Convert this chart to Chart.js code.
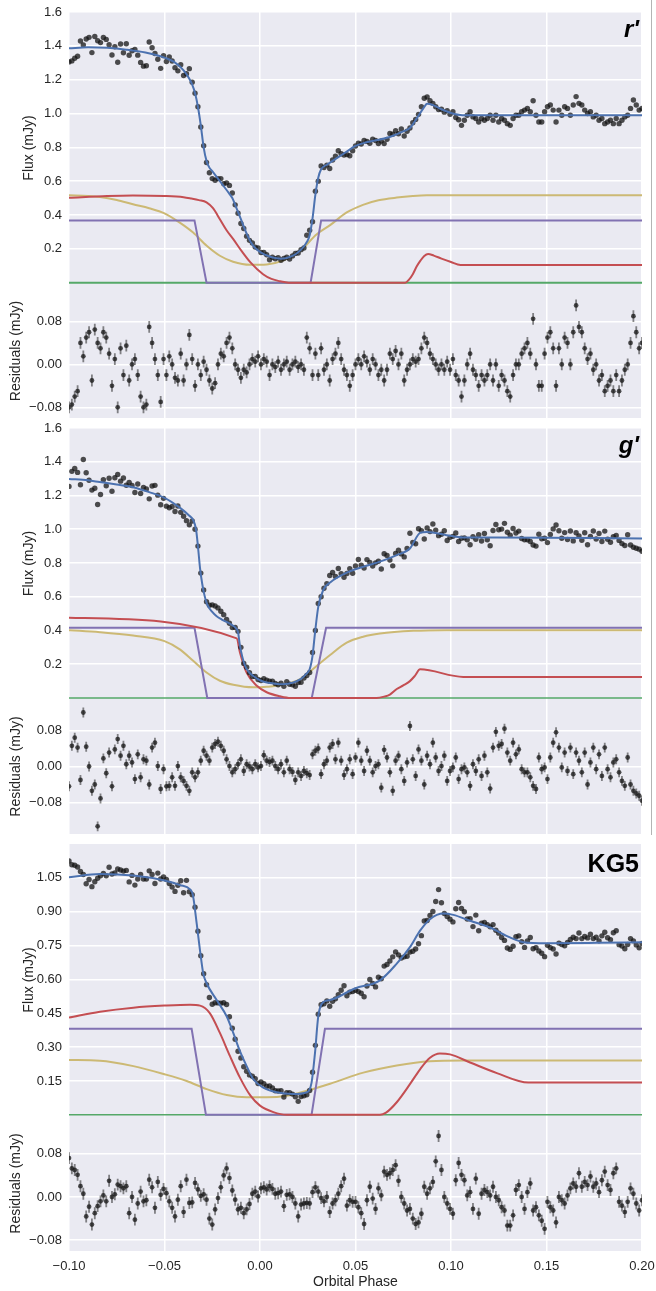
<!DOCTYPE html>
<html>
<head>
<meta charset="utf-8">
<title>Eclipse light curves</title>
<script src="https://cdn.jsdelivr.net/npm/chart.js@4.4.1/dist/chart.umd.min.js"></script>
<style>
  html, body { margin: 0; padding: 0; background: #fff; }
  #fig { position: relative; width: 656px; height: 1291px; overflow: hidden; }
  #fig canvas { position: absolute; left: 0; }
  #edge { position: absolute; left: 651px; top: 0; width: 1px; height: 835px; background: #b4b4b4; }
</style>
</head>
<body>
<div id="fig">
  <canvas id="rFluxCanvas"></canvas>
  <canvas id="rResCanvas"></canvas>
  <canvas id="gFluxCanvas"></canvas>
  <canvas id="gResCanvas"></canvas>
  <canvas id="kFluxCanvas"></canvas>
  <canvas id="kResCanvas"></canvas>
  <div id="edge"></div>
</div>
<script>
// Observations are evenly spaced in orbital phase
const phaseStart = -0.1;
const phaseStep = 0.0015;

// Tick labels
const xTicks = [-0.10, -0.05, 0.00, 0.05, 0.10, 0.15, 0.20];
const fluxTicks16 = [0.2, 0.4, 0.6, 0.8, 1.0, 1.2, 1.4, 1.6];
const fluxTicksKG5 = [0.15, 0.30, 0.45, 0.60, 0.75, 0.90, 1.05];
const residTicks = [-0.08, 0.00, 0.08];
const residErr = 0.011;

// ---- r' band ----
const rFlux = [
  1.305,1.311,1.327,1.338,1.429,1.405,1.44,1.45,1.36,1.455,
  1.43,1.419,1.449,1.438,1.407,1.346,1.395,1.303,1.411,1.359,
  1.412,1.344,1.371,1.378,1.345,1.302,1.28,1.282,1.423,1.389,
  1.355,1.321,1.267,1.342,1.307,1.335,1.31,1.271,1.252,1.288,
  1.225,1.235,1.265,1.185,1.12,1.04,0.92,0.81,0.71,0.65,
  0.615,0.605,0.615,0.615,0.585,0.59,0.575,0.53,0.46,0.41,
  0.35,0.32,0.275,0.25,0.235,0.21,0.205,0.178,0.178,0.165,
  0.135,0.15,0.141,0.148,0.132,0.143,0.151,0.14,0.158,0.173,
  0.175,0.195,0.205,0.28,0.31,0.36,0.54,0.60,0.69,0.68,
  0.695,0.675,0.725,0.748,0.78,0.762,0.755,0.757,0.75,0.78,
  0.808,0.825,0.82,0.84,0.835,0.824,0.848,0.84,0.823,0.837,
  0.822,0.847,0.882,0.878,0.898,0.88,0.908,0.867,0.895,0.914,
  0.945,0.965,0.995,1.04,1.09,1.098,1.075,1.06,1.04,1.023,
  1.025,1.008,1.017,0.995,1.01,0.976,0.963,0.93,0.96,0.99,
  1.01,0.98,0.97,0.95,0.97,0.96,0.97,0.99,0.96,0.99,
  0.95,0.97,0.96,0.94,0.93,0.97,0.99,0.99,1.01,1.02,
  1.03,1.01,1.075,0.99,0.95,0.95,1.01,1.04,1.05,1.02,
  0.95,1.02,0.99,1.04,1.03,0.99,1.05,1.10,1.06,1.05,
  1.02,1.0,1.01,0.98,0.99,0.96,0.97,0.94,0.95,0.96,
  0.94,0.97,0.94,0.96,0.98,0.99,1.03,1.08,1.05,1.02,
  1.03
];
const rResid = [
  -0.08,-0.075,-0.06,-0.05,0.04,0.015,0.05,0.06,-0.03,0.065,
  0.04,0.03,0.06,0.05,0.02,-0.04,0.01,-0.08,0.03,-0.02,
  0.035,-0.03,0,0.01,-0.02,-0.06,-0.08,-0.075,0.07,0.04,
  0.01,-0.02,-0.07,0.01,-0.02,0.015,0,-0.025,-0.03,0.02,
  -0.03,0,0.055,0.01,-0.04,0,-0.02,0.005,-0.01,-0.03,
  -0.045,-0.035,0,0.02,0.015,0.04,0.05,0.03,0,-0.01,
  -0.025,-0.01,-0.015,0,0.01,0.005,0.015,0,0.01,0.005,
  -0.02,0,-0.005,0.005,-0.01,0,0.005,-0.01,0,0.005,
  -0.005,0,-0.01,0.05,0.03,-0.02,0.02,-0.02,0.03,-0.01,
  0,-0.03,0.01,0.02,0.04,0.01,-0.01,-0.02,-0.04,-0.02,
  0,0.01,0,0.015,0.005,-0.01,0.01,0,-0.02,-0.01,
  -0.03,-0.01,0.02,0.01,0.025,0,0.02,-0.03,-0.01,0,
  0.01,0.005,0.01,0.03,0.05,0.04,0.02,0.01,0,-0.01,
  0,-0.01,0.005,-0.01,0.01,-0.02,-0.03,-0.06,-0.03,0,
  0.02,-0.01,-0.02,-0.04,-0.02,-0.03,-0.02,0,-0.03,0,
  -0.04,-0.02,-0.03,-0.05,-0.06,-0.02,0,0,0.02,0.03,
  0.04,0.02,0.085,0,-0.04,-0.04,0.02,0.05,0.06,0.03,
  -0.04,0.03,0,0.05,0.04,0,0.06,0.11,0.07,0.06,
  0.03,0.01,0.02,-0.01,0,-0.03,-0.02,-0.05,-0.04,-0.03,
  -0.05,-0.02,-0.05,-0.03,-0.01,0,0.04,0.09,0.06,0.03,
  0.04
];
const rModel = [[-0.1,1.385],[-0.09,1.392],[-0.08,1.388],[-0.07,1.377],[-0.06,1.36],[-0.05,1.33],[-0.045,1.305],
  [-0.04,1.255],[-0.037,1.205],[-0.0355,1.17],[-0.034,1.12],[-0.0325,1.04],[-0.031,0.93],[-0.0295,0.80],[-0.028,0.72],
  [-0.0265,0.68],[-0.025,0.66],[-0.022,0.615],[-0.019,0.57],[-0.016,0.525],[-0.0145,0.50],[-0.013,0.46],[-0.01,0.375],
  [-0.007,0.29],[-0.004,0.225],[-0.001,0.19],[0.002,0.168],[0.005,0.155],[0.008,0.146],[0.011,0.142],[0.014,0.146],
  [0.017,0.158],[0.02,0.18],[0.023,0.215],[0.0245,0.24],[0.026,0.28],[0.0275,0.38],[0.029,0.52],[0.0305,0.62],
  [0.032,0.67],[0.035,0.697],[0.04,0.735],[0.045,0.772],[0.05,0.808],[0.055,0.828],[0.06,0.84],[0.065,0.852],
  [0.07,0.87],[0.075,0.894],[0.0785,0.914],[0.082,0.97],[0.0855,1.03],[0.0875,1.058],[0.0905,1.05],[0.095,1.025],
  [0.1,1.003],[0.106,0.99],[0.2,0.99]];
const rDisc = [[-0.1,0.502],[-0.08,0.512],[-0.0665,0.515],[-0.05,0.512],[-0.04,0.505],[-0.0359,0.497],[-0.032,0.488],
  [-0.028,0.475],[-0.0246,0.44],[-0.021,0.375],[-0.0175,0.31],[-0.014,0.257],[-0.0095,0.185],[-0.005,0.12],
  [0.0016,0.05],[0.006,0.022],[0.0105,0.008],[0.015,0],[0.076,0],[0.078,0.018],[0.08,0.05],[0.082,0.095],
  [0.084,0.13],[0.086,0.158],[0.088,0.17],[0.091,0.16],[0.095,0.142],[0.1,0.122],[0.105,0.105],[0.2,0.105]];
const rWD = [[-0.1,0.368],[-0.0343,0.368],[-0.028,0],[0.0265,0],[0.032,0.368],[0.2,0.368]];
const rSec = [[-0.1,0.516],[-0.09,0.512],[-0.0838,0.506],[-0.075,0.488],[-0.0665,0.463],[-0.058,0.44],[-0.05,0.41],
  [-0.042,0.355],[-0.035,0.296],[-0.0279,0.218],[-0.021,0.159],[-0.0141,0.124],[-0.0052,0.106],[0.0035,0.108],
  [0.012,0.13],[0.021,0.188],[0.0297,0.286],[0.0367,0.34],[0.0454,0.415],[0.0539,0.46],[0.062,0.487],
  [0.0716,0.503],[0.08,0.512],[0.0873,0.516],[0.2,0.516]];
const rZero = [[-0.1,0],[0.2,0]];

// ---- g' band ----
const gFlux = [
  1.254,1.343,1.36,1.337,1.264,1.413,1.335,1.29,1.232,1.243,
  1.147,1.206,1.293,1.258,1.302,1.225,1.305,1.325,1.285,1.304,
  1.261,1.277,1.259,1.218,1.268,1.212,1.247,1.239,1.18,1.256,
  1.26,1.202,1.145,1.183,1.137,1.127,1.135,1.105,1.138,1.1,
  1.077,1.051,1.026,1.049,1.0,0.9,0.74,0.64,0.57,0.55,
  0.552,0.545,0.534,0.514,0.494,0.466,0.443,0.417,0.418,0.395,
  0.30,0.205,0.182,0.15,0.127,0.127,0.11,0.104,0.115,0.105,
  0.099,0.10,0.086,0.078,0.087,0.069,0.097,0.081,0.078,0.07,
  0.092,0.093,0.118,0.133,0.151,0.27,0.40,0.56,0.60,0.65,
  0.678,0.726,0.744,0.72,0.767,0.737,0.715,0.738,0.766,0.739,
  0.782,0.821,0.787,0.77,0.82,0.803,0.782,0.801,0.81,0.764,
  0.855,0.845,0.818,0.783,0.857,0.876,0.854,0.836,0.886,0.976,
  0.922,0.914,1.003,0.992,0.942,1.008,0.986,1.031,0.995,0.962,
  0.97,0.991,0.933,0.952,0.958,0.978,0.927,0.947,0.949,0.938,
  0.908,0.956,0.941,0.967,0.93,0.975,0.938,0.902,0.993,1.028,
  0.997,1.001,1.035,0.982,0.964,1.004,0.978,0.989,0.945,0.938,
  0.938,0.927,0.907,0.90,0.97,0.943,0.947,0.921,0.969,1.002,
  1.025,0.991,0.947,0.98,0.939,0.99,0.931,0.979,0.961,0.935,
  0.979,0.908,0.957,0.99,0.942,0.975,0.927,0.989,0.941,0.923,
  0.956,0.963,0.934,0.915,0.904,0.967,0.907,0.893,0.887,0.882,
  0.87
];
const gResid = [
  -0.044,0.046,0.064,0.042,-0.03,0.12,0.044,0,-0.054,-0.04,
  -0.133,-0.071,0.018,-0.015,0.031,-0.044,0.038,0.061,0.024,0.046,
  0.005,0.024,0.009,-0.028,0.027,-0.024,0.016,0.013,-0.04,0.042,
  0.053,0.001,-0.05,-0.006,-0.044,-0.043,-0.024,-0.043,0.001,-0.024,
  -0.032,-0.043,-0.054,-0.013,-0.024,-0.013,0.013,0.035,0.024,0.013,
  0.042,0.05,0.055,0.046,0.035,0.016,0.001,-0.013,-0.006,0.005,
  0.016,-0.01,0.005,0,-0.006,0.005,-0.002,0.001,0.025,0.013,
  0.01,0.013,0.001,-0.006,0.005,-0.013,0.013,-0.006,-0.012,-0.03,
  -0.013,-0.021,-0.01,-0.015,-0.019,0.027,0.035,0.04,-0.017,0.005,
  0.013,0.042,0.05,0.016,0.053,0.013,-0.019,-0.006,0.016,-0.017,
  0.02,0.053,0.013,-0.01,0.035,0.013,-0.013,0.001,0.005,-0.047,
  0.037,0.02,-0.013,-0.054,0.013,0.024,-0.006,-0.032,0.009,0.09,
  0.016,-0.021,0.038,0.013,-0.04,0.024,0.005,0.053,0.02,-0.01,
  0.001,0.024,-0.032,-0.01,-0.002,0.02,-0.028,-0.006,-0.002,-0.013,
  -0.043,0.005,-0.01,0.016,-0.021,0.024,-0.013,-0.049,0.042,0.077,
  0.046,0.05,0.084,0.031,0.013,0.053,0.027,0.038,-0.006,-0.013,
  -0.013,-0.024,-0.043,-0.05,0.02,-0.006,-0.002,-0.028,0.02,0.053,
  0.076,0.042,-0.002,0.031,-0.01,0.042,-0.017,0.031,0.013,-0.013,
  0.031,-0.04,0.009,0.042,-0.006,0.027,-0.021,0.042,-0.006,-0.024,
  0.009,0.016,-0.013,-0.032,-0.043,0.02,-0.04,-0.054,-0.06,-0.065,
  -0.076
];
const gModel = [[-0.1,1.298],[-0.09,1.29],[-0.084,1.28],[-0.075,1.265],[-0.0665,1.249],[-0.058,1.22],[-0.05,1.186],
  [-0.042,1.128],[-0.037,1.08],[-0.035,1.055],[-0.0335,1.0],[-0.0325,0.9],[-0.0314,0.77],[-0.0303,0.68],
  [-0.0293,0.62],[-0.0276,0.553],[-0.025,0.51],[-0.0227,0.484],[-0.02,0.465],[-0.0157,0.44],[-0.0125,0.412],
  [-0.0115,0.39],[-0.0105,0.31],[-0.008,0.195],[-0.0055,0.15],[-0.0035,0.13],[0,0.105],[0.0035,0.092],
  [0.008,0.085],[0.0122,0.082],[0.017,0.09],[0.021,0.11],[0.024,0.14],[0.026,0.17],[0.0275,0.25],[0.0288,0.386],
  [0.0305,0.54],[0.0331,0.64],[0.0367,0.685],[0.0454,0.743],[0.0541,0.778],[0.0628,0.808],[0.0716,0.847],
  [0.0785,0.886],[0.0838,0.978],[0.0873,0.984],[0.0977,0.965],[0.1064,0.951],[0.124,0.951],[0.2,0.945]];
const gDisc = [[-0.1,0.475],[-0.0122,0.353],[-0.0105,0.27],[-0.007,0.15],[-0.0017,0.072],[0.0035,0.034],
  [0.0105,0.01],[0.016,0],[0.061,0],[0.065,0.008],[0.068,0.02],[0.0716,0.053],[0.075,0.075],[0.0785,0.10],
  [0.081,0.13],[0.0838,0.17],[0.1064,0.125],[0.2,0.125]];
const gWD = [[-0.1,0.416],[-0.0343,0.416],[-0.0276,0],[0.0271,0],[0.0346,0.416],[0.2,0.416]];
const gSec = [[-0.1,0.402],[-0.0838,0.39],[-0.0665,0.37],[-0.05,0.337],[-0.042,0.288],[-0.035,0.22],[-0.028,0.151],
  [-0.021,0.102],[-0.014,0.078],[-0.0035,0.063],[0.0035,0.066],[0.012,0.078],[0.021,0.112],[0.0297,0.19],
  [0.0367,0.255],[0.0454,0.328],[0.054,0.363],[0.0628,0.382],[0.0803,0.398],[0.0977,0.402],[0.2,0.402]];
const gZero = [[-0.1,0],[0.2,0]];

// ---- KG5 band ----
const kFlux = [
  1.125,1.108,1.106,1.098,1.078,1.065,1.024,1.043,1.011,1.033,
  1.048,1.059,1.07,1.059,1.097,1.067,1.072,1.089,1.085,1.08,
  1.083,1.032,1.061,1.018,1.045,1.065,1.045,1.045,1.081,1.065,
  1.025,1.071,1.045,1.054,1.043,1.025,1.009,0.99,1.017,1.037,
  0.984,1.039,0.989,0.975,0.92,0.814,0.705,0.625,0.577,0.52,
  0.49,0.497,0.496,0.495,0.497,0.489,0.435,0.384,0.335,0.282,
  0.252,0.213,0.193,0.177,0.171,0.16,0.139,0.146,0.138,0.127,
  0.128,0.119,0.107,0.106,0.107,0.079,0.098,0.098,0.092,0.08,
  0.06,0.081,0.085,0.089,0.108,0.189,0.308,0.446,0.488,0.492,
  0.505,0.481,0.503,0.514,0.532,0.552,0.572,0.528,0.544,0.546,
  0.552,0.546,0.539,0.523,0.571,0.60,0.582,0.567,0.61,0.603,
  0.659,0.666,0.682,0.70,0.722,0.709,0.695,0.70,0.703,0.721,
  0.725,0.735,0.758,0.794,0.859,0.861,0.883,0.901,0.945,0.998,
  0.94,0.892,0.879,0.867,0.855,0.913,0.941,0.914,0.90,0.868,
  0.869,0.834,0.885,0.816,0.849,0.852,0.843,0.833,0.843,0.818,
  0.805,0.786,0.773,0.739,0.733,0.747,0.789,0.793,0.767,0.742,
  0.771,0.786,0.736,0.741,0.726,0.716,0.701,0.751,0.741,0.735,
  0.713,0.761,0.755,0.749,0.764,0.777,0.787,0.781,0.806,0.781,
  0.79,0.784,0.80,0.781,0.787,0.771,0.793,0.809,0.785,0.776,
  0.807,0.816,0.754,0.748,0.736,0.755,0.781,0.771,0.753,0.74,
  0.759
];
const kResid = [
  0.072,0.053,0.05,0.041,0.02,0.006,-0.036,-0.018,-0.051,-0.03,
  -0.017,-0.008,0.003,-0.008,0.03,0,0.005,0.023,0.02,0.016,
  0.02,-0.03,0,-0.042,-0.012,0.01,-0.008,-0.006,0.032,0.018,
  -0.02,0.028,0.004,0.015,0.007,-0.008,-0.02,-0.036,-0.005,0.02,
  -0.028,0.032,-0.011,-0.01,0.026,0.014,0.002,0.005,-0.005,-0.04,
  -0.051,-0.023,-0.002,0.018,0.04,0.053,0.035,0.012,-0.005,-0.023,
  -0.02,-0.03,-0.023,-0.013,0.006,0.01,0.001,0.016,0.018,0.014,
  0.02,0.015,0.006,0.007,0.01,-0.017,0.004,0.005,0,-0.012,
  -0.036,-0.014,-0.012,-0.011,-0.012,0.009,0.018,0.01,-0.002,-0.008,
  0,-0.028,-0.012,-0.006,0.006,0.02,0.034,-0.016,-0.006,-0.009,
  -0.009,-0.019,-0.03,-0.05,-0.006,0.019,-0.003,-0.022,0.016,0.003,
  0.047,0.041,0.044,0.05,0.059,0.03,0,-0.012,-0.025,-0.022,
  -0.04,-0.05,-0.047,-0.031,0.019,0.006,0.016,0.028,0.066,0.113,
  0.05,0,-0.012,-0.022,-0.031,0.031,0.063,0.041,0.031,0.003,
  0.009,-0.022,0.034,-0.031,0.006,0.013,0.009,0.003,0.019,0,
  -0.006,-0.019,-0.025,-0.053,-0.053,-0.034,0.013,0.022,0,-0.022,
  0.009,0.025,-0.025,-0.019,-0.034,-0.044,-0.059,-0.009,-0.019,-0.025,
  -0.047,0,-0.006,-0.012,0.003,0.016,0.025,0.019,0.044,0.019,
  0.028,0.022,0.038,0.019,0.025,0.009,0.031,0.047,0.022,0.013,
  0.044,0.053,-0.009,-0.016,-0.028,-0.009,0.016,0.006,-0.012,-0.025,
  -0.006
];
const kModel = [[-0.1,1.053],[-0.0838,1.067],[-0.0663,1.06],[-0.05,1.038],[-0.0419,1.018],[-0.0366,0.999],
  [-0.0352,0.977],[-0.0331,0.845],[-0.0314,0.728],[-0.0297,0.626],[-0.0279,0.582],[-0.0227,0.509],[-0.0174,0.436],
  [-0.014,0.363],[-0.0105,0.282],[-0.007,0.216],[-0.0035,0.158],[0.0017,0.121],[0.0087,0.10],[0.0174,0.092],
  [0.0245,0.10],[0.027,0.143],[0.0288,0.275],[0.0305,0.436],[0.0332,0.50],[0.0367,0.509],[0.0497,0.56],
  [0.0628,0.596],[0.0716,0.67],[0.0785,0.743],[0.0838,0.816],[0.089,0.867],[0.096,0.892],[0.1012,0.886],
  [0.11,0.86],[0.1204,0.83],[0.1309,0.786],[0.1379,0.765],[0.15,0.76],[0.1763,0.762],[0.2,0.765]];
const kDisc = [[-0.1,0.431],[-0.0838,0.457],[-0.0663,0.475],[-0.05,0.484],[-0.0366,0.488],[-0.0314,0.484],
  [-0.0262,0.45],[-0.021,0.363],[-0.0157,0.26],[-0.0105,0.165],[-0.005,0.085],[0,0.041],[0.007,0.012],[0.014,0],
  [0.0628,0],[0.066,0.01],[0.0716,0.056],[0.0785,0.136],[0.0838,0.202],[0.089,0.253],[0.0942,0.272],
  [0.0995,0.268],[0.11,0.232],[0.124,0.185],[0.1405,0.143],[0.2,0.143]];
const kWD = [[-0.1,0.381],[-0.0358,0.381],[-0.0283,0],[0.027,0],[0.034,0.381],[0.2,0.381]];
const kSec = [[-0.1,0.243],[-0.0838,0.24],[-0.0663,0.216],[-0.05,0.18],[-0.0384,0.15],[-0.0279,0.114],
  [-0.0174,0.088],[-0.007,0.078],[0.0035,0.078],[0.014,0.085],[0.0245,0.107],[0.0367,0.138],[0.0541,0.187],
  [0.0716,0.219],[0.089,0.238],[0.1064,0.241],[0.2,0.241]];
const kZero = [[-0.1,0],[0.2,0]];

// Styles
const FONT = "'Liberation Sans', Arial, sans-serif";
const INK = '#262626';
const BLUE = '#4C72B0', RED = '#C44E52', PURPLE = '#8172B2', YELLOW = '#CCB974', GREEN = '#55A868';
const DOT = 'rgba(20, 20, 20, 0.75)';

Chart.defaults.font.family = FONT;
Chart.defaults.color = INK;

const fmt = (v, d) => v.toFixed(d).replace('-', '\u2212');
const toPoints = ys => ys.map((y, i) => ({x: phaseStart + i * phaseStep, y: y}));

// Seaborn-like grey plot area
const plotBg = {
    id: 'plotBg',
    beforeDraw(chart) {
        const {ctx, chartArea: a} = chart;
        ctx.save();
        ctx.fillStyle = '#EAEAF2';
        ctx.fillRect(a.left, a.top, a.right - a.left, a.bottom - a.top);
        ctx.restore();
    }
};

// Vertical error bars on the residual points
const errorBars = {
    id: 'errorBars',
    beforeDatasetsDraw(chart, args, opts) {
        if (!opts.err) return;
        const {ctx, chartArea: a, scales: {x, y}} = chart;
        ctx.save();
        ctx.beginPath();
        ctx.rect(a.left, a.top, a.right - a.left, a.bottom - a.top);
        ctx.clip();
        ctx.strokeStyle = 'rgba(20, 20, 20, 0.5)';
        ctx.lineWidth = 1.8;
        ctx.beginPath();
        chart.data.datasets[0].data.forEach(pt => {
            const px = x.getPixelForValue(pt.x);
            ctx.moveTo(px, y.getPixelForValue(pt.y - opts.err));
            ctx.lineTo(px, y.getPixelForValue(pt.y + opts.err));
        });
        ctx.stroke();
        ctx.restore();
    }
};

// Band name in the top right corner
const panelLabel = {
    id: 'panelLabel',
    afterDatasetsDraw(chart, args, opts) {
        if (!opts.text) return;
        const {ctx, chartArea: a} = chart;
        ctx.save();
        ctx.font = opts.font;
        ctx.fillStyle = '#000';
        ctx.textAlign = 'right';
        ctx.textBaseline = 'alphabetic';
        ctx.fillText(opts.text, a.right - 3, a.top + opts.dy);
        ctx.restore();
    }
};

function line(pairs, color, width, straight) {
    return {
        data: pairs.map(([x, y]) => ({x: x, y: y})),
        showLine: true,
        pointRadius: 0,
        borderColor: color,
        borderWidth: width,
        cubicInterpolationMode: straight ? 'default' : 'monotone',
        tension: 0
    };
}

function fluxSets(model, flux, disc, wd, sec, zero, greenWidth) {
    return [
        line(model, BLUE, 2),
        {data: toPoints(flux), showLine: false, pointRadius: 2.7, pointBackgroundColor: DOT, pointBorderWidth: 0},
        line(disc, RED, 2),
        line(wd, PURPLE, 2, true),
        line(sec, YELLOW, 2),
        line(zero, GREEN, greenWidth, true)
    ];
}

function residSets(resid) {
    return [{data: toPoints(resid), showLine: false, pointRadius: 2.4, pointBackgroundColor: DOT, pointBorderWidth: 0}];
}

function panel(id, top, height, o) {
    const padTop = 14;
    const padBottom = o.bottomAxis ? 0 : 14;
    const xAxisH = o.bottomAxis ? 40 : 0;
    const cv = document.getElementById(id);
    cv.width = 656;
    cv.height = padTop + height + padBottom + xAxisH;
    cv.style.top = (top - padTop) + 'px';

    return new Chart(cv, {
        type: 'scatter',
        data: {datasets: o.datasets},
        plugins: [plotBg, errorBars, panelLabel],
        options: {
            responsive: false,
            animation: false,
            devicePixelRatio: 1,
            layout: {padding: {top: padTop, bottom: padBottom, left: 0, right: 14}},
            plugins: {
                legend: {display: false},
                tooltip: {enabled: false},
                errorBars: {err: o.err || 0},
                panelLabel: {text: o.label || '', font: o.labelFont, dy: o.labelDy}
            },
            scales: {
                x: {
                    type: 'linear',
                    min: -0.1,
                    max: 0.2,
                    afterBuildTicks: s => { s.ticks = xTicks.map(v => ({value: v})); },
                    afterFit: s => {
                        s.height = xAxisH;
                        // keep end labels from pushing the plot area inwards
                        s.paddingLeft = 0;
                        s.paddingRight = 0;
                    },
                    grid: {color: '#ffffff', lineWidth: 1.5, drawTicks: false},
                    border: {display: false},
                    ticks: {
                        display: !!o.bottomAxis,
                        padding: 8,
                        color: INK,
                        font: {size: 13},
                        callback: v => fmt(v, 2)
                    },
                    title: {
                        display: !!o.bottomAxis,
                        text: 'Orbital Phase',
                        color: INK,
                        font: {size: 14},
                        padding: {top: 0, bottom: 0}
                    }
                },
                y: {
                    min: o.yMin,
                    max: o.yMax,
                    afterBuildTicks: s => { s.ticks = o.yTicks.map(v => ({value: v})); },
                    afterFit: s => {
                        s.width = 69;
                        s.paddingTop = 0;
                        s.paddingBottom = 0;
                    },
                    grid: {color: '#ffffff', lineWidth: 1.5, drawTicks: false},
                    border: {display: false},
                    ticks: {
                        padding: 7,
                        color: INK,
                        font: {size: 13},
                        callback: v => fmt(v, o.yDec)
                    },
                    title: {
                        display: true,
                        text: o.yTitle,
                        color: INK,
                        font: {size: 14},
                        padding: {top: o.titlePad, bottom: 0}
                    }
                }
            }
        }
    });
}

const italicLabel = "bold italic 24px 'Liberation Sans', Arial, sans-serif";
const plainLabel = "bold 25px 'Liberation Sans', Arial, sans-serif";

panel('rFluxCanvas', 12, 272, {
    datasets: fluxSets(rModel, rFlux, rDisc, rWD, rSec, rZero, 2),
    yMin: -0.008, yMax: 1.6, yTicks: fluxTicks16, yDec: 1,
    yTitle: 'Flux (mJy)', titlePad: 21, label: "r'", labelFont: italicLabel, labelDy: 25
});
panel('rResCanvas', 284, 134, {
    datasets: residSets(rResid), err: residErr,
    yMin: -0.1, yMax: 0.15, yTicks: residTicks, yDec: 2,
    yTitle: 'Residuals (mJy)', titlePad: 8
});
panel('gFluxCanvas', 428, 271, {
    datasets: fluxSets(gModel, gFlux, gDisc, gWD, gSec, gZero, 1.5),
    yMin: -0.006, yMax: 1.6, yTicks: fluxTicks16, yDec: 1,
    yTitle: 'Flux (mJy)', titlePad: 21, label: "g'", labelFont: italicLabel, labelDy: 25
});
panel('gResCanvas', 699, 135, {
    datasets: residSets(gResid), err: residErr,
    yMin: -0.15, yMax: 0.15, yTicks: residTicks, yDec: 2,
    yTitle: 'Residuals (mJy)', titlePad: 8
});
panel('kFluxCanvas', 844, 272, {
    datasets: fluxSets(kModel, kFlux, kDisc, kWD, kSec, kZero, 1.5),
    yMin: -0.005, yMax: 1.2, yTicks: fluxTicksKG5, yDec: 2,
    yTitle: 'Flux (mJy)', titlePad: 21, label: 'KG5', labelFont: plainLabel, labelDy: 28
});
panel('kResCanvas', 1116, 135, {
    datasets: residSets(kResid), err: residErr,
    yMin: -0.1, yMax: 0.15, yTicks: residTicks, yDec: 2,
    yTitle: 'Residuals (mJy)', titlePad: 8, bottomAxis: true
});
</script>
</body>
</html>
